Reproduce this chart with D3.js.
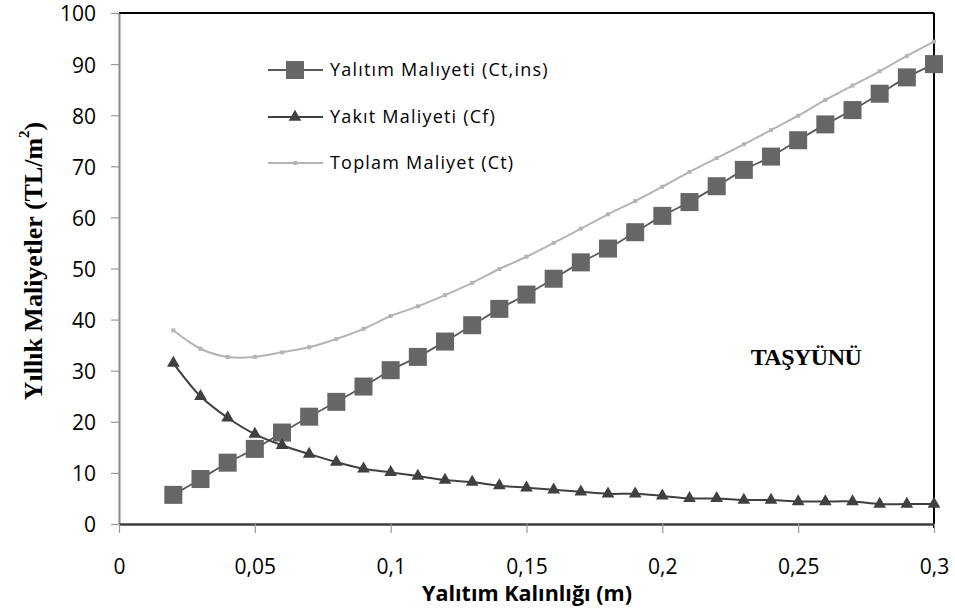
<!DOCTYPE html>
<html>
<head>
<meta charset="utf-8">
<script src="https://cdn.jsdelivr.net/npm/d3@7"></script>
<style>
  html, body { margin: 0; padding: 0; background: #fff; }
  svg { display: block; }
</style>
</head>
<body>
<svg id="chart" width="955" height="615"></svg>
<script>
// Insulation thickness (m)
const thickness = [0.02, 0.03, 0.04, 0.05, 0.06, 0.07, 0.08, 0.09, 0.10, 0.11,
  0.12, 0.13, 0.14, 0.15, 0.16, 0.17, 0.18, 0.19, 0.20, 0.21,
  0.22, 0.23, 0.24, 0.25, 0.26, 0.27, 0.28, 0.29, 0.30];
// Annual insulation cost (Ct,ins)
const insulationCost = [5.7, 8.8, 12.0, 14.7, 17.9, 21.0, 23.9, 26.9, 30.1, 32.7,
  35.7, 38.9, 42.1, 44.9, 48.0, 51.2, 53.9, 57.1, 60.3, 63.0,
  66.1, 69.3, 71.9, 75.1, 78.2, 81.0, 84.2, 87.4, 90.0];
// Annual fuel cost (Cf)
const fuelCost = [31.5, 25.0, 20.8, 17.6, 15.4, 13.7, 12.1, 10.8, 10.1, 9.4,
  8.6, 8.2, 7.5, 7.1, 6.7, 6.3, 5.9, 5.9, 5.5, 5.0,
  5.0, 4.7, 4.7, 4.4, 4.4, 4.4, 3.9, 3.9, 3.9];
// Total annual cost (Ct)
const totalCost = [37.9, 34.3, 32.7, 32.7, 33.6, 34.6, 36.2, 38.2, 40.7, 42.6,
  44.8, 47.2, 49.9, 52.3, 55.0, 57.8, 60.6, 63.2, 66.0, 68.9,
  71.6, 74.3, 77.1, 79.9, 83.0, 85.8, 88.6, 91.6, 94.4];

const xTicks = [0, 0.05, 0.1, 0.15, 0.2, 0.25, 0.3];
const yTicks = [0, 10, 20, 30, 40, 50, 60, 70, 80, 90, 100];
const seriesNames = ["Yalıtım Malıyeti (Ct,ins)", "Yakıt Maliyeti (Cf)", "Toplam Maliyet (Ct)"];

const svg = d3.select("#chart");
const plotLeft = 119, plotRight = 934, plotTop = 13, plotBottom = 524;

const x = d3.scaleLinear().domain([0, 0.3]).range([plotLeft, plotRight]);
const y = d3.scaleLinear().domain([0, 100]).range([plotBottom, plotTop]);

const sansFont = "'Open Sans', 'Noto Sans', sans-serif";
const serifFont = "'Liberation Serif', 'DejaVu Serif', serif";

// Frame: top and right edges
svg.append("line").attr("x1", plotLeft).attr("x2", plotRight).attr("y1", plotTop).attr("y2", plotTop)
  .attr("stroke", "#000").attr("stroke-width", 2);
svg.append("line").attr("x1", plotRight).attr("x2", plotRight).attr("y1", plotTop).attr("y2", plotBottom + 4)
  .attr("stroke", "#000").attr("stroke-width", 2);

// Y axis
const yAxis = svg.append("g").attr("transform", `translate(${plotLeft},0)`)
  .call(d3.axisLeft(y).tickValues(yTicks).tickSize(8).tickSizeOuter(0).tickFormat(d => d));
yAxis.select(".domain").attr("stroke", "#888").attr("stroke-width", 2);
yAxis.selectAll(".tick line").attr("stroke", "#999").attr("stroke-width", 1.2);
yAxis.selectAll(".tick text").attr("x", -23).attr("dy", "0.38em")
  .attr("font-family", sansFont).attr("font-size", 21).attr("fill", "#000");

// X axis
const fmt = d => d === 0 ? "0" : String(+d.toFixed(2)).replace(".", ",");
const xAxis = svg.append("g").attr("transform", `translate(0,${plotBottom})`)
  .call(d3.axisBottom(x).tickValues(xTicks).tickSize(9).tickSizeOuter(0).tickFormat(fmt));
xAxis.select(".domain").attr("stroke", "#3c3c3c").attr("stroke-width", 2.5);
xAxis.selectAll(".tick line").attr("stroke", "#999").attr("stroke-width", 1.2);
xAxis.selectAll(".tick text").attr("y", 35).attr("dy", "0.71em")
  .attr("font-family", sansFont).attr("font-size", 21).attr("fill", "#000");

// Axis titles
svg.append("text").attr("x", 527).attr("y", 601).attr("text-anchor", "middle")
  .attr("font-family", sansFont).attr("font-weight", "bold").attr("font-size", 21)
  .attr("textLength", 210).attr("lengthAdjust", "spacingAndGlyphs")
  .text("Yalıtım Kalınlığı (m)");

const yTitle = svg.append("text")
  .attr("transform", "translate(42,261) rotate(-90)")
  .attr("text-anchor", "middle")
  .attr("font-family", serifFont).attr("font-weight", "bold").attr("font-size", 26);
yTitle.append("tspan").text("Yıllık Maliyetler (TL/m");
yTitle.append("tspan").attr("font-size", 15).attr("dy", -13).text("2");
yTitle.append("tspan").attr("dy", 13).text(")");

// Annotation
svg.append("text").attr("x", 806).attr("y", 365).attr("text-anchor", "middle")
  .attr("font-family", serifFont).attr("font-weight", "bold").attr("font-size", 24)
  .attr("letter-spacing", -0.5)
  .text("TAŞYÜNÜ");

const curve = d3.curveCatmullRom.alpha(0.5);
const lineGen = vals => d3.line().curve(curve)
  .x((d, i) => x(thickness[i])).y(d => y(d))(vals);

// Total cost
svg.append("path").attr("d", lineGen(totalCost)).attr("fill", "none")
  .attr("stroke", "#b4b4b4").attr("stroke-width", 2);
svg.append("g").selectAll("rect").data(totalCost).join("rect")
  .attr("x", (d, i) => x(thickness[i]) - 2).attr("y", d => y(d) - 2)
  .attr("width", 4).attr("height", 4).attr("fill", "#b4b4b4");

// Insulation cost
svg.append("path").attr("d", lineGen(insulationCost)).attr("fill", "none")
  .attr("stroke", "#5a5a5a").attr("stroke-width", 1.8);
svg.append("g").selectAll("rect").data(insulationCost).join("rect")
  .attr("x", (d, i) => x(thickness[i]) - 9).attr("y", d => y(d) - 9)
  .attr("width", 18).attr("height", 18).attr("fill", "#666");

// Fuel cost
svg.append("path").attr("d", lineGen(fuelCost)).attr("fill", "none")
  .attr("stroke", "#404040").attr("stroke-width", 2);
const tri = d3.symbol().type(d3.symbolTriangle).size(70);
svg.append("g").selectAll("path").data(fuelCost).join("path")
  .attr("d", tri)
  .attr("transform", (d, i) => `translate(${x(thickness[i])},${y(d)})`)
  .attr("fill", "#404040");

// Legend
const legendY = [70, 117, 163];
const legend = svg.append("g");
const lineColors = ["#5a5a5a", "#404040", "#b4b4b4"];
seriesNames.forEach((name, k) => {
  const g = legend.append("g").attr("transform", `translate(0,${legendY[k]})`);
  g.append("line").attr("x1", 268).attr("x2", 323).attr("y1", 0).attr("y2", 0)
    .attr("stroke", lineColors[k]).attr("stroke-width", 2);
  if (k === 0) {
    g.append("rect").attr("x", 286).attr("y", -9).attr("width", 18).attr("height", 18).attr("fill", "#666");
  } else if (k === 1) {
    g.append("path").attr("d", tri).attr("transform", "translate(295,0)").attr("fill", "#404040");
  } else {
    g.append("rect").attr("x", 293).attr("y", -2).attr("width", 4).attr("height", 4).attr("fill", "#b4b4b4");
  }
  g.append("text").attr("x", 330).attr("y", 0).attr("dy", "0.36em")
    .attr("font-family", sansFont).attr("font-size", 18).attr("letter-spacing", 1.2)
    .attr("fill", "#000").text(name);
});
</script>
</body>
</html>
